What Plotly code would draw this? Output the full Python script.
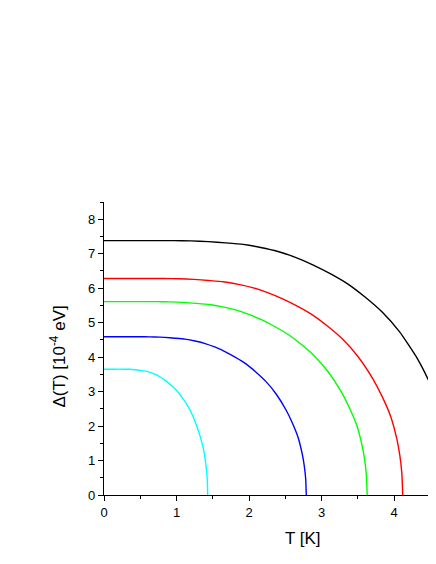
import plotly.graph_objects as go

# Superconducting gap curves
T_cyan = [0, 0.143, 0.286, 0.358, 0.429, 0.501, 0.572, 0.644, 0.715, 0.787, 0.858, 0.930, 1.001, 1.073, 1.144, 1.216, 1.287, 1.330, 1.373, 1.401, 1.416, 1.426, 1.43]
D_cyan = [3.65, 3.65, 3.65, 3.646, 3.635, 3.617, 3.595, 3.551, 3.493, 3.409, 3.303, 3.176, 3.030, 2.840, 2.621, 2.336, 1.960, 1.672, 1.321, 0.949, 0.675, 0.365, 0]

T_blue = [0, 0.279, 0.558, 0.698, 0.837, 0.977, 1.116, 1.256, 1.395, 1.535, 1.674, 1.814, 1.953, 2.093, 2.232, 2.372, 2.511, 2.595, 2.678, 2.734, 2.762, 2.782, 2.79]
D_blue = [4.59, 4.59, 4.59, 4.585, 4.572, 4.549, 4.521, 4.466, 4.393, 4.287, 4.154, 3.993, 3.810, 3.571, 3.296, 2.938, 2.465, 2.102, 1.662, 1.193, 0.849, 0.459, 0]

T_green = [0, 0.363, 0.726, 0.908, 1.089, 1.271, 1.452, 1.634, 1.815, 1.997, 2.178, 2.360, 2.541, 2.723, 2.904, 3.086, 3.267, 3.376, 3.485, 3.557, 3.594, 3.619, 3.63]
D_green = [5.61, 5.61, 5.61, 5.604, 5.588, 5.560, 5.526, 5.459, 5.369, 5.240, 5.077, 4.881, 4.656, 4.365, 4.028, 3.590, 3.013, 2.569, 2.031, 1.459, 1.038, 0.561, 0]

T_red = [0, 0.412, 0.824, 1.03, 1.236, 1.442, 1.648, 1.854, 2.06, 2.266, 2.472, 2.678, 2.884, 3.09, 3.296, 3.502, 3.708, 3.832, 3.955, 4.038, 4.079, 4.108, 4.12]
D_red = [6.28, 6.28, 6.28, 6.274, 6.255, 6.223, 6.186, 6.110, 6.010, 5.866, 5.683, 5.464, 5.212, 4.886, 4.509, 4.019, 3.372, 2.876, 2.273, 1.633, 1.162, 0.628, 0]

T_black = [0, 0.48, 0.96, 1.2, 1.44, 1.68, 1.92, 2.16, 2.40, 2.64, 2.88, 3.12, 3.36, 3.60, 3.84, 4.08, 4.32, 4.464, 4.608, 4.704, 4.752, 4.786, 4.80]
D_black = [7.38, 7.38, 7.38, 7.373, 7.350, 7.314, 7.269, 7.181, 7.063, 6.893, 6.679, 6.421, 6.125, 5.742, 5.299, 4.723, 3.963, 3.380, 2.672, 1.919, 1.365, 0.738, 0]

x_ticks = [0, 1, 2, 3, 4]
y_ticks = [0, 1, 2, 3, 4, 5, 6, 7, 8]

series = [
    (T_black, D_black, "#000000"),
    (T_red, D_red, "#ff0000"),
    (T_green, D_green, "#00ff00"),
    (T_blue, D_blue, "#0000ff"),
    (T_cyan, D_cyan, "#00ffff"),
]

fig = go.Figure()
for xs, ys, c in series:
    fig.add_trace(go.Scatter(x=xs, y=ys, mode="lines",
                             line=dict(color=c, width=1.4, shape="spline", smoothing=0.5),
                             showlegend=False, hoverinfo="skip"))

FONT = "Liberation Sans, Arial, sans-serif"
axis_common = dict(
    showgrid=False, zeroline=False, showline=True, linecolor="#000000",
    linewidth=1.2, ticks="outside", ticklen=5, tickwidth=1.2, tickcolor="#000000",
    tickfont=dict(family=FONT, size=13, color="#000000"),
    minor=dict(ticks="outside", ticklen=3, tickwidth=1.2, tickcolor="#000000", dtick=0.5),
)

fig.update_xaxes(range=[0, 4.579], tickvals=x_ticks, ticktext=[str(v) for v in x_ticks],
                 **axis_common)
fig.update_yaxes(range=[0, 8.5], tickvals=y_ticks, ticktext=[str(v) for v in y_ticks],
                 **axis_common)

fig.add_annotation(text="T [K]", xref="paper", yref="paper", x=0.599, y=-0.149,
                   xanchor="center", yanchor="middle", showarrow=False,
                   font=dict(family=FONT, size=17, color="#000000"))
fig.add_annotation(text="Δ(T) [10<sup>-4</sup> eV]", xref="paper", yref="paper",
                   x=-0.140, y=0.471, xanchor="center", yanchor="middle", textangle=-90,
                   showarrow=False, font=dict(family=FONT, size=17, color="#000000"))

# page body has an 8px margin, so the figure is sized to end at the window edge
fig.update_layout(
    width=428, height=556,
    margin=dict(l=96, r=0, t=194, b=69, pad=0),
    plot_bgcolor="#ffffff", paper_bgcolor="#ffffff",
    font=dict(family=FONT, color="#000000"),
)

fig.write_html("out.html")
